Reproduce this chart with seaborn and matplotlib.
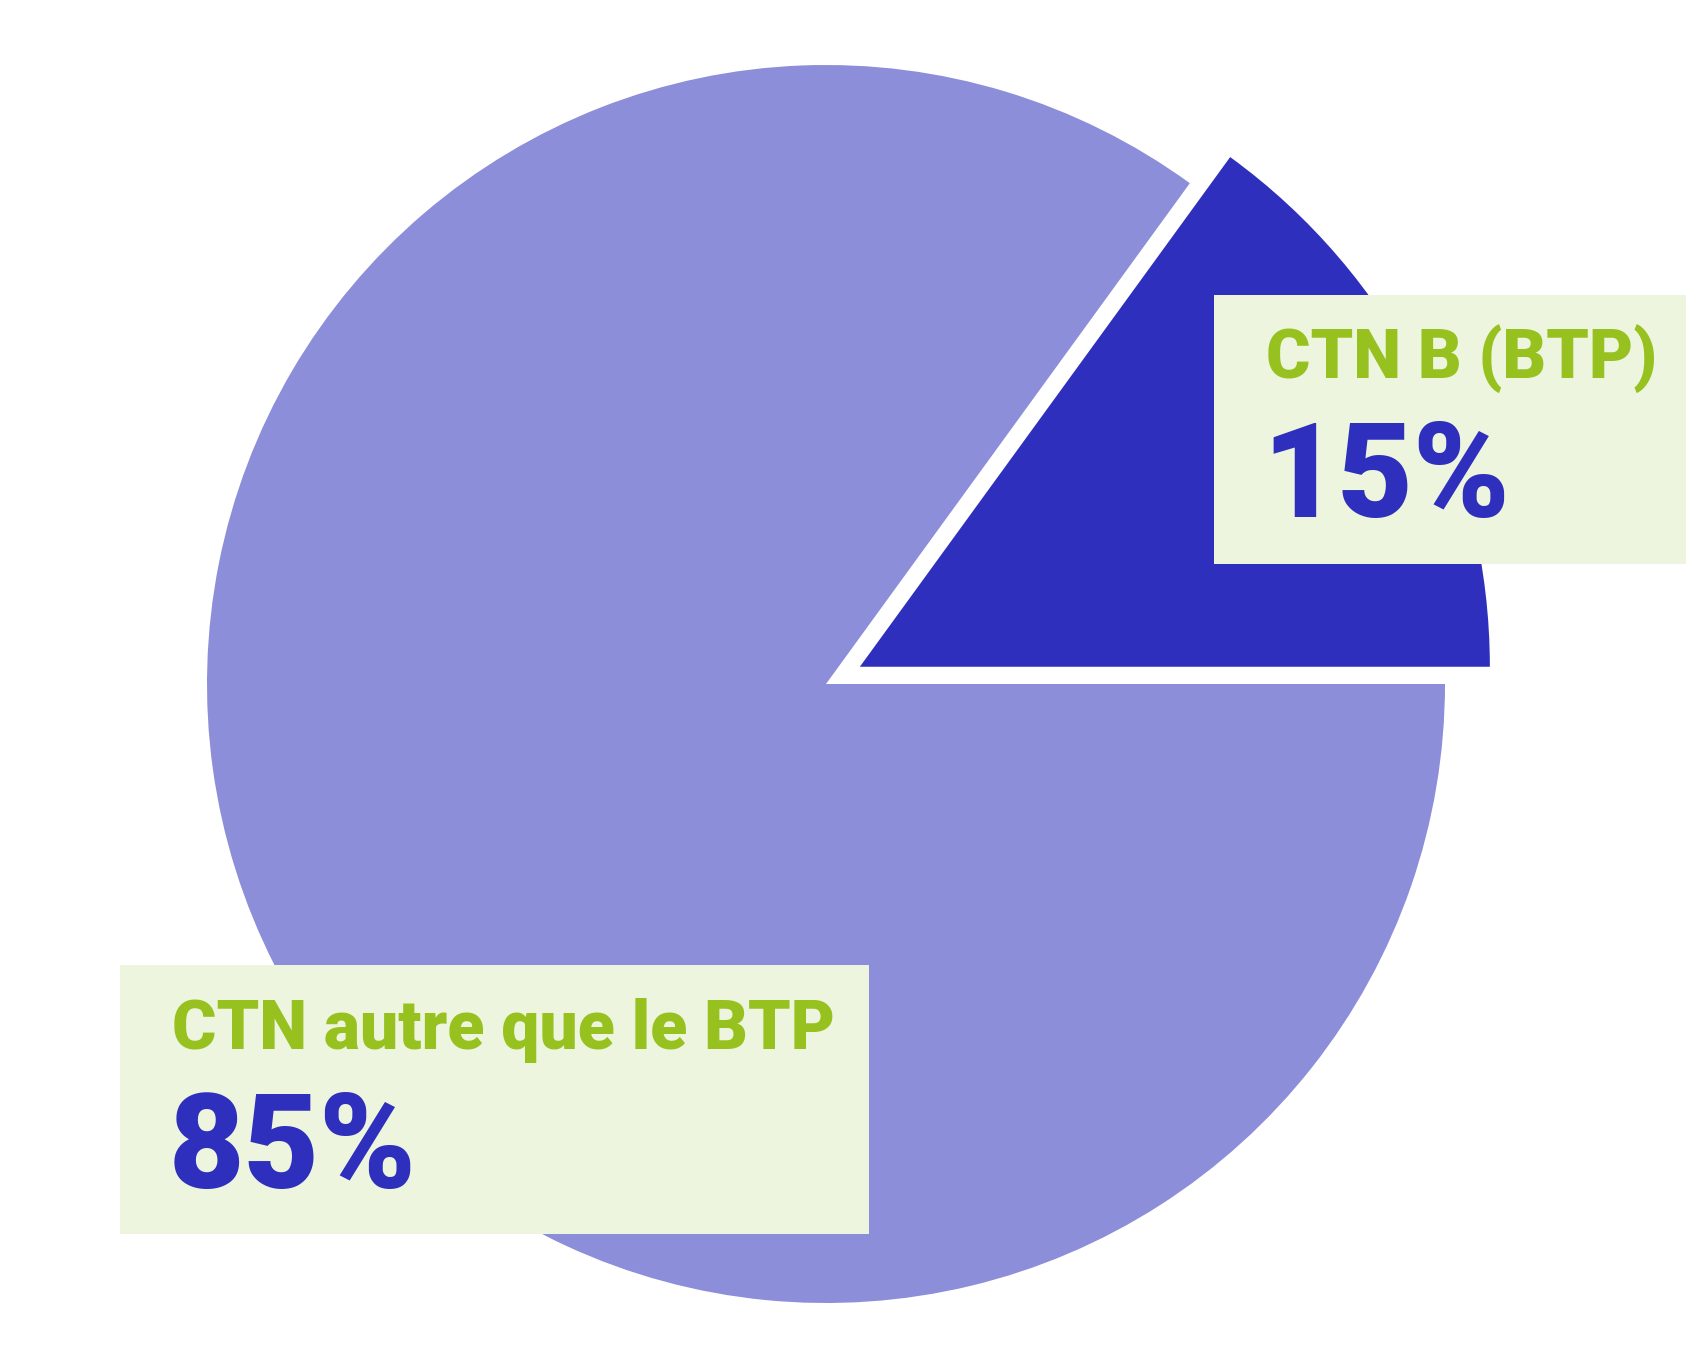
import matplotlib
matplotlib.use("Agg")
import matplotlib.pyplot as plt
import matplotlib.patches as mpatches
import seaborn as sns

# ---- data ----
categories = ["CTN B (BTP)", "CTN autre que le BTP"]
shares = [15, 85]
value_labels = ["15%", "85%"]

# ---- style ----
sns.set_theme(style="white")
plt.rcParams["font.family"] = ["Roboto", "DejaVu Sans"]

slice_colors = ["#2E2FBC", "#8C8EDA"]
box_color = "#EDF5DF"
green = "#97C11F"
dark = "#2E2FBC"

W, H = 1708, 1370
fig = plt.figure(figsize=(W / 100, H / 100), dpi=100)
ax = fig.add_axes([0, 0, 1, 1])

cx, cy = 826, H - 684
radius = 619
wedges, _ = ax.pie(
    shares,
    colors=slice_colors,
    startangle=0,
    counterclock=True,
    explode=[38, 0],
    radius=radius,
    center=(cx, cy),
    wedgeprops=dict(linewidth=0),
)
wedges[0].set_radius(630)

ax.set_xlim(0, W)
ax.set_ylim(0, H)
ax.set_aspect("auto")
ax.axis("off")

# label boxes (x0, y_top, x1, y_bottom in image pixels)
boxes = [(1214, 295, 1686, 564), (120, 965, 869, 1234)]
title_pos = [(1266, 379), (172, 1049)]
value_pos = [(1262, 517), (169, 1188)]

for (x0, yt, x1, yb), (tx, ty), (vx, vy), cat, val in zip(
    boxes, title_pos, value_pos, categories, value_labels
):
    ax.add_patch(
        mpatches.Rectangle((x0, H - yb), x1 - x0, yb - yt,
                           facecolor=box_color, edgecolor="none", zorder=3)
    )
    ax.text(tx, H - ty, cat, color=green, fontsize=49, fontweight="black",
            ha="left", va="baseline", zorder=4)
    ax.text(vx, H - vy, val, color=dark, fontsize=94, fontweight="black",
            ha="left", va="baseline", zorder=4)

fig.savefig("out.png", dpi=100, facecolor="white")
